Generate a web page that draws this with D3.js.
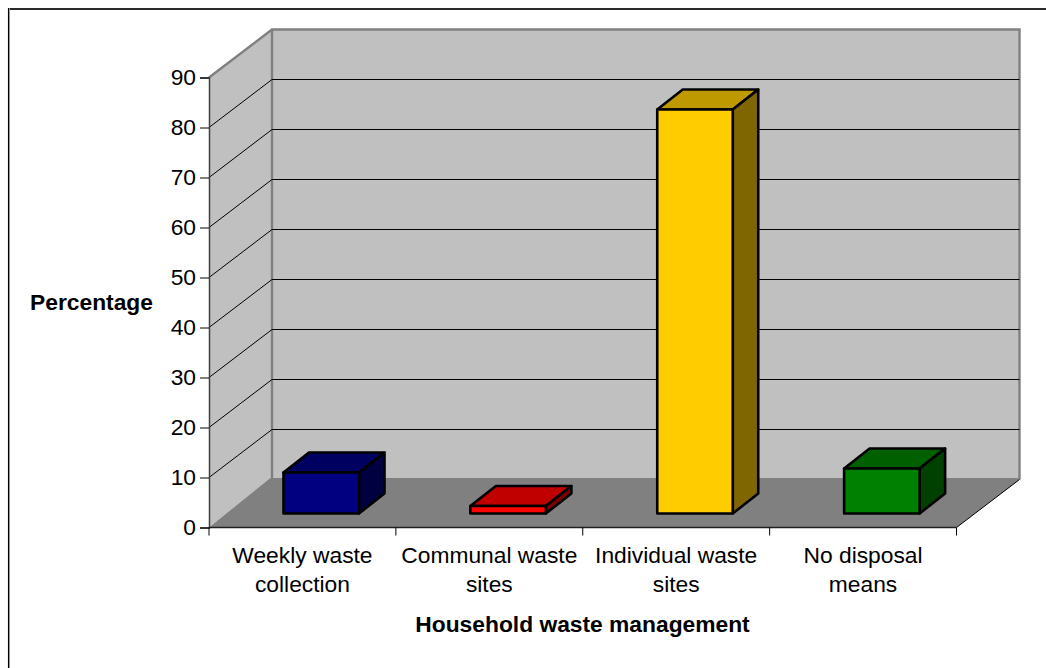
<!DOCTYPE html>
<html>
<head>
<meta charset="utf-8">
<script src="https://cdn.jsdelivr.net/npm/d3@7/dist/d3.min.js"></script>
<style>
html,body{margin:0;padding:0;background:#fff;}
svg{display:block;}
text{font-family:"Liberation Sans",Arial,sans-serif;fill:#000;}
</style>
</head>
<body>
<div id="chart"></div>
<script>
// Household waste management survey results
const categories = [["Weekly waste","collection"],["Communal waste","sites"],["Individual waste","sites"],["No disposal","means"]];
const values = [8.2, 1.5, 80.8, 9];
const frontColors = ["#000080","#ff0000","#ffcc00","#008000"];
const topColors = ["#000060","#c00000","#bf9900","#006000"];
const sideColors = ["#000040","#800000","#806600","#004000"];
const yTicks = [0,10,20,30,40,50,60,70,80,90];
const xTitle = "Household waste management";
const yTitle = "Percentage";

const W = 1046, H = 668, fontSize = 22.8;
const svg = d3.select("#chart").append("svg").attr("width",W).attr("height",H);

// Oblique projection: the front plane of the box and the offset of its back wall
const x = d3.scaleBand().domain(d3.range(categories.length)).range([209,956.5]);
const y = d3.scaleLinear().domain([0,90]).range([527.5,77.5]);
const depth = {dx:63, dy:-48};
const floorLift = 1.5;
const barDepth = {dx:25.5, dy:-20};
const barOffset = {dx:18.8, dy:-14};
const barWidth = 75.5;
const line = d3.line();

// Frame along the top and left of the page
svg.append("path").attr("d",line([[9.5,9],[W,9]])).attr("fill","none").attr("stroke","#2a2a2a").attr("stroke-width",2);
svg.append("path").attr("d",line([[9.5,8],[9.5,H]])).attr("fill","none").attr("stroke","#c8c8c8").attr("stroke-width",1);
svg.append("path").attr("d",line([[8.6,8],[8.6,H]])).attr("fill","none").attr("stroke","#000").attr("stroke-width",1.3);

const [x0,x1] = x.range();
const y0 = y(0), yTop = y(90);

// Back wall, side wall and floor
svg.append("path")
  .attr("d",line([[x0+depth.dx,y0+depth.dy],[x0+depth.dx,yTop+depth.dy],[x1+depth.dx,yTop+depth.dy],[x1+depth.dx,y0+depth.dy]])+"Z")
  .attr("fill","#c0c0c0");
svg.append("path")
  .attr("d",line([[x0,y0],[x0,yTop],[x0+depth.dx,yTop+depth.dy],[x0+depth.dx,y0+depth.dy]])+"Z")
  .attr("fill","#c0c0c0");

// Wall outlines
svg.append("path")
  .attr("d",line([[x0,yTop],[x0+depth.dx,yTop+depth.dy],[x1+depth.dx,yTop+depth.dy],[x1+depth.dx,y0+depth.dy]]))
  .attr("fill","none").attr("stroke","#808080").attr("stroke-width",2.4);
svg.append("path")
  .attr("d",line([[x0+depth.dx,yTop+depth.dy],[x0+depth.dx,y0+depth.dy]]))
  .attr("fill","none").attr("stroke","#808080").attr("stroke-width",2.4);

svg.append("path")
  .attr("d",line([[x0,y0],[x1,y0],[x1+depth.dx,y0+depth.dy],[x1+depth.dx-1.5,y0+depth.dy-floorLift],[x0+depth.dx-1.5,y0+depth.dy-floorLift]])+"Z")
  .attr("fill","#808080");

// Gridlines wrap from the side wall onto the back wall
svg.append("g").selectAll("path").data(yTicks.filter(d=>d>0&&d<90)).join("path")
  .attr("d",d=>line([[x0,y(d)],[x0+depth.dx,y(d)+depth.dy],[x1+depth.dx,y(d)+depth.dy]]))
  .attr("fill","none").attr("stroke","#000").attr("stroke-width",1);

// Front floor edge running off to the back right corner
svg.append("path")
  .attr("d",line([[x1,y0],[x1+depth.dx,y0+depth.dy]]))
  .attr("fill","none").attr("stroke","#000").attr("stroke-width",1);

// Value axis
const yAxis = svg.append("g").attr("transform",`translate(${x0},0)`)
  .call(d3.axisLeft(y).tickValues(yTicks).tickSize(9).tickPadding(4).tickFormat(d3.format("d")));
yAxis.select(".domain").attr("stroke","#404040").attr("stroke-width",1.5);
yAxis.selectAll(".tick line").attr("stroke","#000");
yAxis.selectAll("text").attr("font-size",fontSize);

// Category axis
const xAxisG = svg.append("g");
xAxisG.append("path").attr("d",line([[x0,y0],[x1,y0]])).attr("stroke","#202020").attr("stroke-width",1.5).attr("fill","none");
xAxisG.selectAll("line").data(d3.range(categories.length+1)).join("line")
  .attr("x1",i=>x0+i*x.step()).attr("x2",i=>x0+i*x.step())
  .attr("y1",y0).attr("y2",y0+8).attr("stroke","#000");

// Bars as three-faced boxes
const bars = svg.append("g").selectAll("g").data(values).join("g");
bars.each(function(v,i){
  const g = d3.select(this);
  const cx = x(i)+x.bandwidth()/2+barOffset.dx;
  const l = cx-barWidth/2, r = cx+barWidth/2;
  const b = y(0)+barOffset.dy, t = y(v)+barOffset.dy;
  const faces = [
    {pts:[[l,t],[r,t],[r+barDepth.dx,t+barDepth.dy],[l+barDepth.dx,t+barDepth.dy]],fill:topColors[i]},
    {pts:[[r,t],[r,b],[r+barDepth.dx,b+barDepth.dy],[r+barDepth.dx,t+barDepth.dy]],fill:sideColors[i]},
    {pts:[[l,t],[r,t],[r,b],[l,b]],fill:frontColors[i]}
  ];
  g.selectAll("path").data(faces).join("path")
    .attr("d",d=>line(d.pts)+"Z")
    .attr("fill",d=>d.fill)
    .attr("stroke","#000").attr("stroke-width",2.6).attr("stroke-linejoin","round");
});

// Category labels
svg.append("g").selectAll("text").data(categories).join("text")
  .attr("text-anchor","middle").attr("font-size",fontSize)
  .attr("transform",(d,i)=>`translate(${x(i)+x.bandwidth()/2},562.5)`)
  .selectAll("tspan").data(d=>d).join("tspan")
  .attr("x",0).attr("dy",(d,i)=>i?29.5:0).text(d=>d);

svg.append("text").attr("x",582.5).attr("y",632).attr("text-anchor","middle")
  .attr("font-size",fontSize).attr("font-weight","bold").text(xTitle);
svg.append("text").attr("x",91.5).attr("y",309.5).attr("text-anchor","middle")
  .attr("font-size",fontSize).attr("font-weight","bold").text(yTitle);
</script>
</body>
</html>
